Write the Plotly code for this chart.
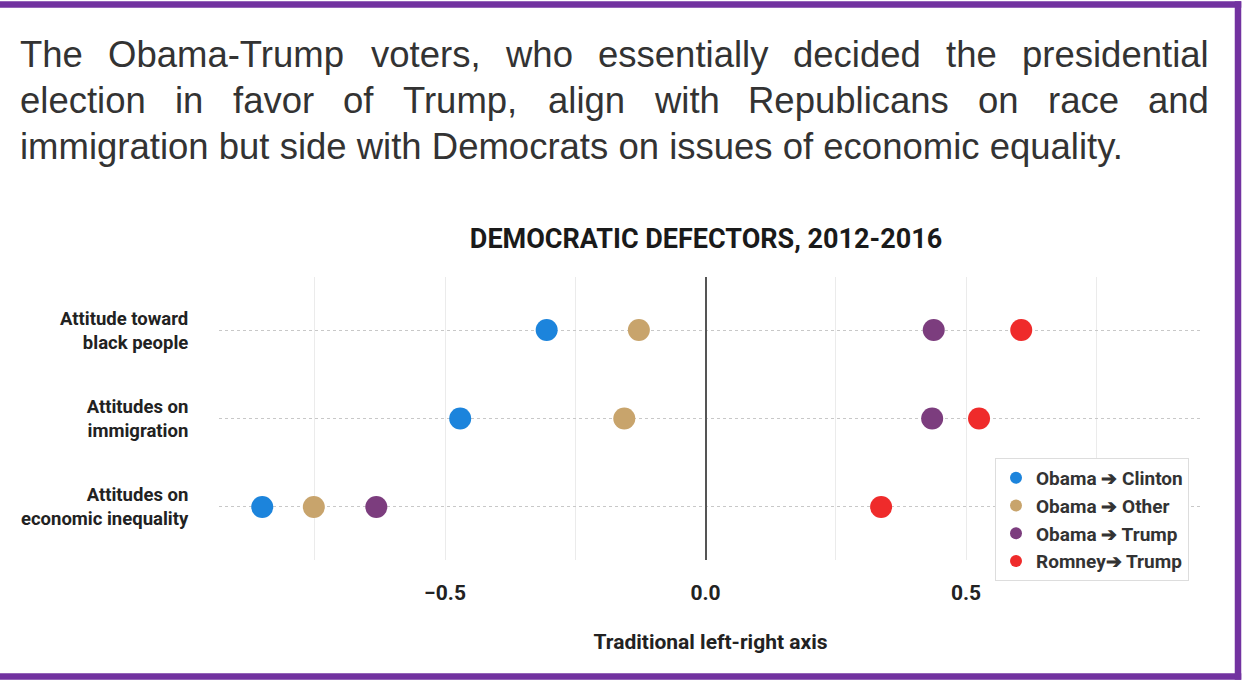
import plotly.graph_objects as go

# ---------------- data ----------------
categories = ["Attitude toward<br>black people",
              "Attitudes on<br>immigration",
              "Attitudes on<br>economic inequality"]
series_names = ["Obama \u2794 Clinton", "Obama \u2794 Other", "Obama \u2794 Trump", "Romney\u2794 Trump"]
obama_clinton = [-0.305, -0.471, -0.851]
obama_other = [-0.128, -0.156, -0.752]
obama_trump = [0.438, 0.435, -0.632]
romney_trump = [0.606, 0.525, 0.337]
x_tickvals = [-0.75, -0.5, -0.25, 0.0, 0.25, 0.5, 0.75]
x_ticktext = ["", "\u22120.5", "", "0.0", "", "0.5", ""]
chart_title = "DEMOCRATIC DEFECTORS, 2012-2016"
x_title = "Traditional left-right axis"
headline = ["The Obama-Trump voters, who essentially decided the presidential",
            "election in favor of Trump, align with Republicans on race and",
            "immigration but side with Democrats on issues of economic equality."]

colors = ["#1c84dc", "#c8a46c", "#7c3d7e", "#ef2b2b"]

# ---------------- layout geometry ----------------
W, H = 1243, 685
ML, MR, MT, MB = 219, 41, 277, 125
PW, PH = W - ML - MR, H - MT - MB


def px(x):
    return (x - ML) / PW


def py(y):
    return (H - MB - y) / PH


# Arial / Liberation Sans advance widths (per 1000 em)
AW = {' ': 278, '-': 333, ',': 278, '.': 278,
      'a': 556, 'b': 556, 'c': 500, 'd': 556, 'e': 556, 'f': 278, 'g': 556, 'h': 556,
      'i': 222, 'j': 222, 'k': 500, 'l': 222, 'm': 833, 'n': 556, 'o': 556, 'p': 556,
      'q': 556, 'r': 333, 's': 500, 't': 278, 'u': 556, 'v': 500, 'w': 722, 'x': 500,
      'y': 500, 'z': 500, 'T': 611, 'O': 778, 'R': 722, 'D': 722}


def text_width(s, size):
    return sum(AW.get(c, 556) for c in s) / 1000.0 * size


fig = go.Figure()
series = [obama_clinton, obama_other, obama_trump, romney_trump]
for i, (name, vals) in enumerate(zip(series_names, series)):
    fig.add_trace(go.Scatter(
        x=vals, y=categories, mode="markers", name=name,
        legendgroup=str(i),
        marker=dict(size=22, color=colors[i], line=dict(width=0)),
    ))

annotations = []
HEAD_SIZE = 36.5
HEAD_LEFT, HEAD_RIGHT = 18, 1207
baselines = [66, 112, 158]
for li, line in enumerate(headline):
    yc = baselines[li] - 12
    if li < len(headline) - 1:
        words = line.split(" ")
        widths = [text_width(w, HEAD_SIZE) for w in words]
        gap = (HEAD_RIGHT - HEAD_LEFT - sum(widths)) / (len(words) - 1)
        xcur = HEAD_LEFT
        for w, wd in zip(words, widths):
            annotations.append(dict(
                text=w, x=px(xcur), y=py(yc), xref="paper", yref="paper",
                xanchor="left", yanchor="middle", showarrow=False,
                font=dict(family="Liberation Sans, Arial", size=HEAD_SIZE, color="#333333")))
            xcur += wd + gap
    else:
        annotations.append(dict(
            text=line, x=px(HEAD_LEFT), y=py(yc), xref="paper", yref="paper",
            xanchor="left", yanchor="middle", showarrow=False,
            font=dict(family="Liberation Sans, Arial", size=HEAD_SIZE, color="#333333")))

# purple frame: top, right and bottom bands (left edge lies outside the picture)
frame_color = "#7232a0"
frame_w = 6.5
shapes = [
    dict(type="line", xref="paper", yref="paper", x0=px(0), x1=px(1241.25),
         y0=py(4.5), y1=py(4.5), line=dict(color=frame_color, width=frame_w), layer="above"),
    dict(type="line", xref="paper", yref="paper", x0=px(0), x1=px(1241.25),
         y0=py(676.5), y1=py(676.5), line=dict(color=frame_color, width=frame_w), layer="above"),
    dict(type="line", xref="paper", yref="paper", x0=px(1238), x1=px(1238),
         y0=py(1.25), y1=py(679.75), line=dict(color=frame_color, width=frame_w), layer="above"),
]

fig.update_layout(
    width=W, height=H, autosize=False,
    margin=dict(l=ML, r=MR, t=MT, b=MB),
    paper_bgcolor="white", plot_bgcolor="white",
    title=dict(text="<b>" + chart_title + "</b>", x=px(706), xref="paper", xanchor="center",
               y=1 - 239 / H, yref="container", yanchor="middle",
               font=dict(family="Roboto", size=27, color="#1a1a1a")),
    xaxis=dict(range=[-0.934, 0.953], tickvals=x_tickvals, ticktext=x_ticktext,
               showgrid=True, gridcolor="#ebebeb", gridwidth=1,
               zeroline=True, zerolinecolor="#555555", zerolinewidth=1.5,
               showline=False, ticks="outside", ticklen=14, tickcolor="rgba(0,0,0,0)",
               tickfont=dict(family="Roboto", size=21, color="#222222", weight="bold"),
               title=dict(text="<b>" + x_title + "</b>", standoff=30,
                          font=dict(family="Roboto", size=21, color="#222222"))),
    yaxis=dict(type="category", categoryorder="array", categoryarray=categories,
               range=[2.6, -0.6], showgrid=True, gridcolor="#c8c8c8", griddash="dot",
               gridwidth=1, zeroline=False, showline=False,
               ticks="outside", ticklen=26, tickcolor="rgba(0,0,0,0)",
               tickfont=dict(family="Roboto", size=18.5, color="#222222", weight="bold")),
    legend=dict(x=px(995), y=py(458), xanchor="left", yanchor="top",
                bgcolor="white", bordercolor="#dddddd", borderwidth=1,
                font=dict(family="Roboto", size=19, color="#333333", weight="bold"),
                itemsizing="constant", tracegroupgap=12, traceorder="normal"),
    annotations=annotations,
    shapes=shapes,
)

fig.write_html("out.html", config={"displayModeBar": False},
               post_script="document.body.style.margin='0';document.body.style.overflow='hidden';")
